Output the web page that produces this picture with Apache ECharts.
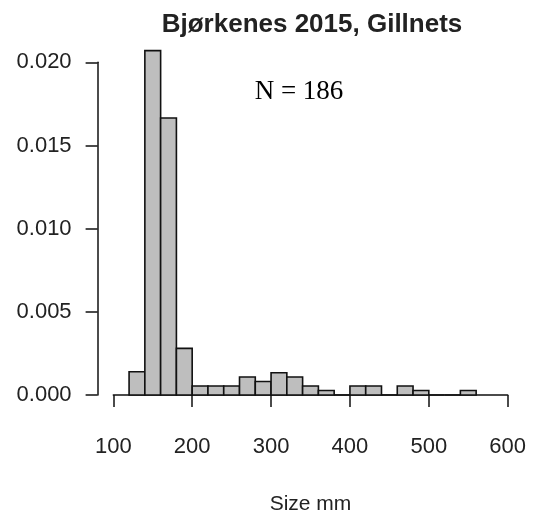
<!DOCTYPE html>
<html>
<head>
<meta charset="utf-8">
<script src="https://cdn.jsdelivr.net/npm/echarts@6/dist/echarts.min.js"></script>
<style>
html,body{margin:0;padding:0;background:#fff;}
#chart{width:534px;height:515px;}
</style>
</head>
<body>
<div id="chart"></div>
<script>
// Histogram bin edges (mm)
var breaks = [120,140,160,180,200,220,240,260,280,300,320,340,360,380,400,420,440,460,480,500,520,540,560];
// Density per bin
var densities = [0.00140,0.02070,0.01665,0.00280,0.00054,0.00054,0.00054,0.00108,0.00081,0.00134,0.00108,0.00054,0.00027,0,0.00054,0.00054,0,0.00054,0.00027,0,0,0.00027];
var xTicks = [100,200,300,400,500,600];
var yTicks = [0.000,0.005,0.010,0.015,0.020];
var titleText = 'Bjørkenes 2015, Gillnets';
var annotation = 'N = 186';
var xName = 'Size mm';

var data = densities.map(function(d, i){ return [breaks[i], breaks[i+1], d]; });

var chart = echarts.init(document.getElementById('chart'), null, {renderer:'canvas'});
var axisCol = '#111';
var txtCol = '#222';
chart.setOption({
  animation:false,
  backgroundColor:'#fff',
  grid:{left:113.3, right:26.3, top:62.3, bottom:120, containLabel:false, outerBoundsMode:'none'},
  xAxis:{
    type:'value', min:xTicks[0], max:xTicks[xTicks.length-1], interval:100,
    offset:12,
    axisLine:{show:true, lineStyle:{color:axisCol, width:1.5}},
    axisTick:{show:true, length:12, lineStyle:{color:axisCol, width:1.5}},
    splitLine:{show:false},
    axisLabel:{fontSize:22, color:txtCol, fontFamily:'Liberation Sans', margin:29},
    name:xName, nameLocation:'middle', nameGap:87,
    nameTextStyle:{fontSize:21, color:txtCol, fontFamily:'Liberation Sans'}
  },
  yAxis:{
    type:'value', min:yTicks[0], max:yTicks[yTicks.length-1], interval:0.005,
    offset:15.7,
    axisLine:{show:true, lineStyle:{color:axisCol, width:1.5}},
    axisTick:{show:true, length:12, lineStyle:{color:axisCol, width:1.5}},
    splitLine:{show:false},
    axisLabel:{fontSize:22, color:txtCol, fontFamily:'Liberation Sans', margin:26,
      formatter:function(v){ return v.toFixed(3); }}
  },
  series:[{
    type:'custom',
    clip:false,
    data:data,
    encode:{x:[0,1], y:2},
    renderItem:function(params, api){
      var p0 = api.coord([api.value(0), 0]);
      var p1 = api.coord([api.value(1), api.value(2)]);
      return {
        type:'rect',
        shape:{x:p0[0], y:p1[1], width:p1[0]-p0[0], height:p0[1]-p1[1]},
        style:{fill:'#bebebe', stroke:'#111', lineWidth:1.6}
      };
    }
  }],
  graphic:[
    {type:'text', x:312, y:25, style:{text:titleText, font:'bold 26px "Liberation Sans"', fill:txtCol, textAlign:'center', textVerticalAlign:'middle'}},
    {type:'text', x:299, y:92, style:{text:annotation, font:'27px "Liberation Serif"', fill:'#000', textAlign:'center', textVerticalAlign:'middle'}}
  ]
});
</script>
</body>
</html>
